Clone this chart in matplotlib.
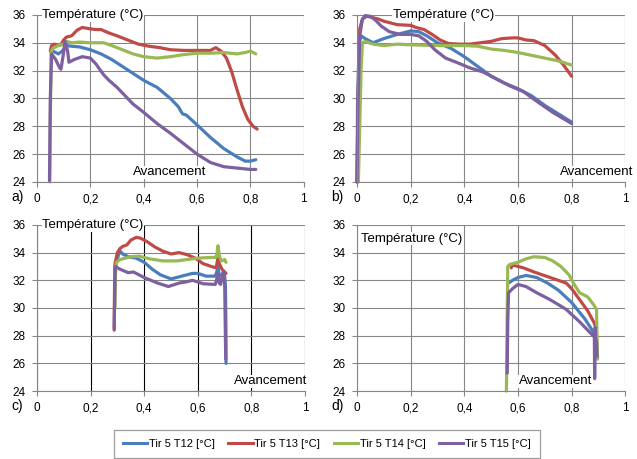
import numpy as np
import matplotlib.pyplot as plt
from matplotlib.lines import Line2D

plt.rcParams['font.family'] = ['Liberation Sans', 'DejaVu Sans']

# ---- panel a
a_t12_x = [0.052,0.06,0.08,0.095,0.11,0.13,0.16,0.2,0.24,0.28,0.32,0.36,0.4,0.45,0.5,0.53,0.545,0.56,0.6,0.65,0.7,0.75,0.78,0.8,0.82]
a_t12_y = [33.5,33.4,33.2,33.4,33.8,33.75,33.7,33.5,33.2,32.8,32.3,31.8,31.3,30.8,30.0,29.4,28.9,28.8,28.1,27.2,26.4,25.8,25.5,25.5,25.6]
a_t13_x = [0.05,0.055,0.065,0.08,0.09,0.1,0.11,0.13,0.15,0.17,0.2,0.22,0.24,0.27,0.3,0.34,0.38,0.42,0.46,0.5,0.55,0.6,0.65,0.67,0.69,0.71,0.73,0.75,0.77,0.79,0.81,0.825]
a_t13_y = [33.4,33.8,33.9,33.8,33.85,34.2,34.4,34.5,34.9,35.1,35.0,34.95,34.95,34.7,34.5,34.2,33.9,33.75,33.65,33.5,33.45,33.45,33.45,33.65,33.4,32.9,31.9,30.6,29.4,28.5,28.0,27.8]
a_t14_x = [0.048,0.05,0.053,0.06,0.08,0.1,0.11,0.13,0.16,0.2,0.25,0.28,0.32,0.36,0.4,0.45,0.5,0.55,0.6,0.65,0.7,0.75,0.78,0.8,0.82]
a_t14_y = [24.0,28,33.4,33.6,33.8,33.9,34.1,34.0,34.05,34.0,34.0,33.8,33.5,33.2,33.0,32.9,33.0,33.15,33.25,33.25,33.3,33.2,33.3,33.4,33.2]
a_t15_x = [0.047,0.05,0.055,0.07,0.085,0.09,0.1,0.105,0.115,0.12,0.14,0.17,0.2,0.22,0.25,0.27,0.3,0.33,0.36,0.4,0.45,0.5,0.54,0.56,0.6,0.65,0.7,0.75,0.8,0.82]
a_t15_y = [24.1,30,33.2,32.8,32.2,32.1,33.3,34.1,33.4,32.6,32.8,33.0,32.9,32.5,31.7,31.3,30.8,30.2,29.6,29.0,28.2,27.5,26.9,26.6,26.0,25.4,25.1,25.0,24.9,24.9]

# ---- panel b
b_t12_x = [0.0,0.002,0.008,0.015,0.03,0.06,0.1,0.15,0.2,0.23,0.26,0.3,0.35,0.4,0.45,0.5,0.55,0.6,0.65,0.7,0.75,0.8]
b_t12_y = [24.0,30,34.0,34.5,34.3,34.0,34.3,34.6,34.85,34.8,34.5,34.0,33.6,33.0,32.3,31.6,31.1,30.7,30.2,29.5,28.9,28.3]
b_t13_x = [0.0,0.004,0.01,0.02,0.035,0.05,0.08,0.1,0.15,0.2,0.22,0.25,0.28,0.31,0.34,0.38,0.42,0.46,0.5,0.54,0.58,0.6,0.63,0.66,0.7,0.74,0.77,0.8]
b_t13_y = [24.0,30,35.0,35.7,35.9,35.85,35.7,35.55,35.3,35.25,35.1,34.95,34.6,34.2,33.95,33.9,33.9,34.0,34.1,34.3,34.35,34.35,34.2,34.15,33.8,33.1,32.4,31.6]
b_t14_x = [0.005,0.01,0.015,0.02,0.03,0.06,0.1,0.15,0.2,0.3,0.4,0.45,0.5,0.55,0.6,0.65,0.7,0.75,0.8]
b_t14_y = [24.0,28,32,34.0,34.1,33.9,33.8,33.9,33.85,33.8,33.8,33.75,33.55,33.45,33.3,33.1,32.9,32.7,32.4]
b_t15_x = [0.0,0.003,0.01,0.02,0.03,0.05,0.07,0.09,0.12,0.16,0.2,0.23,0.26,0.29,0.33,0.37,0.42,0.47,0.52,0.57,0.62,0.67,0.73,0.8]
b_t15_y = [24.0,29,34.5,35.7,35.95,35.9,35.6,35.2,34.8,34.6,34.6,34.5,34.1,33.5,32.9,32.6,32.2,31.9,31.4,30.9,30.5,29.8,29.0,28.2]

# ---- panel c
c_t12_x = [0.29,0.3,0.31,0.32,0.34,0.37,0.4,0.43,0.46,0.5,0.54,0.58,0.6,0.63,0.665,0.672,0.675,0.68,0.69,0.695,0.7,0.703,0.705,0.705]
c_t12_y = [32.8,33.6,34.1,33.9,33.7,33.6,33.3,32.8,32.4,32.1,32.3,32.5,32.5,32.3,32.3,32.7,33.0,32.3,32.4,32.6,32.3,31.5,28,26.0]
c_t13_x = [0.288,0.289,0.291,0.3,0.31,0.32,0.335,0.35,0.37,0.385,0.41,0.44,0.47,0.5,0.53,0.56,0.59,0.62,0.65,0.668,0.675,0.68,0.69,0.7,0.705]
c_t13_y = [28.4,31,33.2,34.0,34.3,34.45,34.55,34.9,35.1,35.05,34.8,34.4,34.1,33.9,34.0,33.85,33.6,33.2,33.0,32.9,33.6,33.2,32.8,32.6,32.5]
c_t14_x = [0.291,0.293,0.296,0.31,0.35,0.38,0.42,0.47,0.52,0.56,0.6,0.65,0.668,0.672,0.675,0.68,0.685,0.69,0.7,0.705]
c_t14_y = [30.0,32.5,33.3,33.5,33.7,33.75,33.55,33.4,33.4,33.5,33.6,33.65,33.65,34.0,34.5,33.8,33.5,33.4,33.5,33.3]
c_t15_x = [0.288,0.29,0.292,0.31,0.34,0.36,0.4,0.45,0.49,0.53,0.56,0.58,0.62,0.665,0.672,0.675,0.68,0.685,0.695,0.7,0.703,0.704]
c_t15_y = [28.5,31,33.0,32.8,32.55,32.6,32.2,31.8,31.55,31.8,31.9,32.0,31.75,31.7,32.2,32.5,31.8,31.7,32.6,31.8,27.5,26.3]

# ---- panel d
d_t12_x = [0.565,0.58,0.6,0.63,0.67,0.71,0.75,0.8,0.85,0.88,0.89]
d_t12_y = [31.8,32.0,32.2,32.35,32.2,31.8,31.3,30.4,29.2,28.3,27.8]
d_t13_x = [0.575,0.58,0.6,0.62,0.66,0.72,0.78,0.8,0.83,0.86,0.885,0.89,0.892]
d_t13_y = [32.9,33.1,33.0,32.9,32.6,32.2,31.8,31.4,30.6,29.8,28.9,28.6,28.4]
d_t14_x = [0.557,0.559,0.562,0.57,0.6,0.63,0.66,0.7,0.73,0.76,0.79,0.81,0.83,0.86,0.88,0.893,0.895,0.897]
d_t14_y = [24.0,28,33.0,33.15,33.3,33.55,33.7,33.65,33.4,33.0,32.4,31.7,31.1,30.8,30.3,29.9,28,26.3]
d_t15_x = [0.56,0.562,0.565,0.58,0.6,0.63,0.67,0.72,0.78,0.83,0.87,0.885,0.886,0.888,0.89,0.893,0.895]
d_t15_y = [25.3,29,31.1,31.4,31.7,31.55,31.1,30.6,29.9,29.0,28.2,27.9,24.9,28.6,27.7,27.6,26.5]

series_names = ["Tir 5 T12 [°C]", "Tir 5 T13 [°C]", "Tir 5 T14 [°C]", "Tir 5 T15 [°C]"]
colors = ["#4a7ebb", "#be4b48", "#98b954", "#7d60a0"]
x_ticks = [0, 0.2, 0.4, 0.6, 0.8, 1]
x_labels = ["0", "0,2", "0,4", "0,6", "0,8", "1"]
y_ticks = [24, 26, 28, 30, 32, 34, 36]

panels = [
    ("a)", [(a_t12_x, a_t12_y), (a_t13_x, a_t13_y), (a_t14_x, a_t14_y), (a_t15_x, a_t15_y)]),
    ("b)", [(b_t12_x, b_t12_y), (b_t13_x, b_t13_y), (b_t14_x, b_t14_y), (b_t15_x, b_t15_y)]),
    ("c)", [(c_t12_x, c_t12_y), (c_t13_x, c_t13_y), (c_t14_x, c_t14_y), (c_t15_x, c_t15_y)]),
    ("d)", [(d_t12_x, d_t12_y), (d_t13_x, d_t13_y), (d_t14_x, d_t14_y), (d_t15_x, d_t15_y)]),
]
# axes rectangles [left, bottom, width, height] in figure fraction
rects = [[0.058, 0.6035, 0.419, 0.364], [0.5605, 0.6035, 0.421, 0.364],
         [0.058, 0.148, 0.421, 0.362], [0.5605, 0.148, 0.421, 0.362]]
# title / "Avancement" placement (data coords)
title_pos = [(0.02, 36.0), (0.134, 36.0), (0.02, 36.0), (0.015, 35.0)]
avanc_pos = [(0.36, 24.7), (0.757, 24.7), (0.734, 24.7), (0.604, 24.7)]
grey = "#868686"

fig = plt.figure(figsize=(6.37, 4.59), dpi=100)
for k, (lab, data) in enumerate(panels):
    ax = fig.add_axes(rects[k])
    ax.set_xlim(0, 1)
    ax.set_ylim(24, 36)
    ax.set_xticks(x_ticks)
    ax.set_xticklabels(x_labels)
    ax.set_yticks(y_ticks)
    ax.tick_params(labelsize=8.5, length=3.5, color=grey, pad=4.5)
    for s in ["top", "right"]:
        ax.spines[s].set_visible(False)
    for s in ["left", "bottom"]:
        ax.spines[s].set_color(grey)
    ax.grid(True, axis="y", color=grey, linewidth=0.8)
    vcol = "black" if k == 2 else grey
    ax.grid(True, axis="x", color=vcol, linewidth=0.8)
    ax.set_axisbelow(True)
    for (xs, ys), c in zip(data, colors):
        ax.plot(xs, ys, color=c, linewidth=2.3, solid_capstyle="round", clip_on=False)
    ax.text(title_pos[k][0], title_pos[k][1], "Température (°C)", fontsize=9.5,
            va="center", ha="left", zorder=5,
            bbox=dict(facecolor="white", edgecolor="none", pad=0.5))
    ax.text(avanc_pos[k][0], avanc_pos[k][1], "Avancement", fontsize=9.5,
            va="center", ha="left", zorder=5, clip_on=False,
            bbox=dict(facecolor="white", edgecolor="none", pad=0.5))
    ax.text(-0.095, -0.09, lab, transform=ax.transAxes, fontsize=10, va="center")

handles = [Line2D([0], [0], color=c, linewidth=2.2) for c in colors]
leg = fig.legend(handles, series_names, loc="center", bbox_to_anchor=(0.513, 0.033),
                 ncol=4, fontsize=8, frameon=True, fancybox=False,
                 handlelength=2.2, handletextpad=0.15, columnspacing=1.2,
                 borderpad=0.8)
leg.get_frame().set_edgecolor(grey)
leg.get_frame().set_linewidth(0.9)

fig.savefig("out.png", dpi=100)
